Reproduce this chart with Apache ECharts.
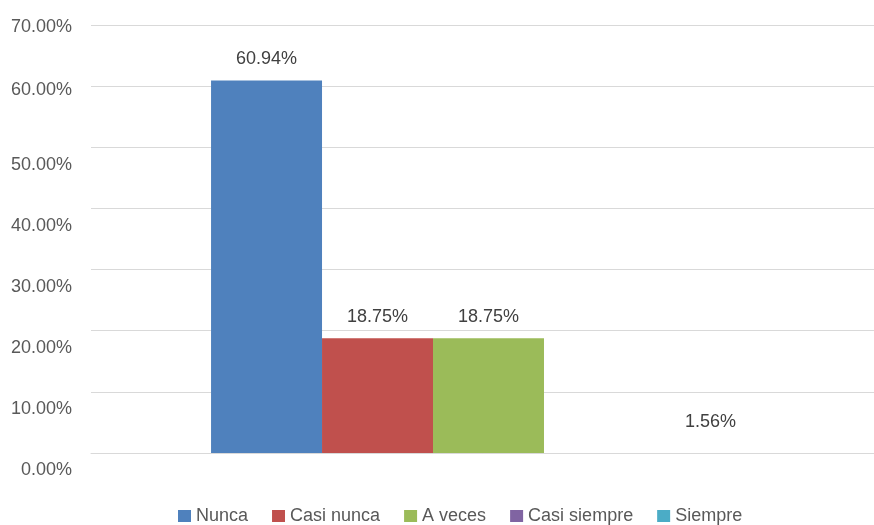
<!DOCTYPE html>
<html>
<head>
<meta charset="utf-8">
<script src="https://cdn.jsdelivr.net/npm/echarts@6/dist/echarts.min.js"></script>
<style>html,body{margin:0;padding:0;background:#fff}#c{width:874px;height:525px}</style>
</head>
<body>
<div id="c"></div>
<script>
const categories = [''];
const seriesNames = ['Nunca', 'Casi nunca', 'A veces', 'Casi siempre', 'Siempre'];
const seriesValues = [60.94, 18.75, 18.75, 0, 1.56];
const seriesColors = ['#4F81BD', '#C0504D', '#9BBB59', '#8064A2', '#4BACC6'];
const yTicks = [0, 10, 20, 30, 40, 50, 60, 70];

const FONT = 'Liberation Sans';
const FS = 18;
const chart = echarts.init(document.getElementById('c'), null, {renderer: 'canvas'});

const series = seriesNames.map((name, i) => ({
  name: name,
  type: 'bar',
  barGap: '0%',
  barCategoryGap: '30.2%',
  itemStyle: {color: seriesColors[i]},
  label: {
    show: true,
    position: 'top',
    distance: 12,
    color: '#404040',
    fontFamily: FONT,
    fontSize: FS,
    formatter: p => (p.value ? p.value.toFixed(2) + '%' : '')
  },
  data: categories.map(() => (name === 'Siempre'
    ? {value: seriesValues[i], itemStyle: {color: 'rgba(0,0,0,0)'}}
    : seriesValues[i]))
}));

chart.setOption({
  backgroundColor: '#fff',
  animation: false,
  grid: {left: 91, top: 25, bottom: 72, width: 795, containLabel: false, outerBoundsMode: 'none'},
  legend: {
    left: 173,
    top: 502,
    itemWidth: 13,
    itemHeight: 12,
    itemGap: 24,
    icon: 'rect',
    textStyle: {color: '#595959', fontFamily: FONT, fontSize: FS},
    data: seriesNames
  },
  xAxis: {
    type: 'category',
    data: categories,
    axisLine: {lineStyle: {color: '#d9d9d9', width: 1}},
    axisTick: {show: false},
    axisLabel: {show: false}
  },
  yAxis: {
    type: 'value',
    min: yTicks[0],
    max: yTicks[yTicks.length - 1],
    interval: 10,
    axisLine: {show: false},
    axisTick: {show: false},
    splitLine: {lineStyle: {color: '#d9d9d9', width: 1}},
    axisLabel: {
      margin: 19,
      color: '#595959',
      fontFamily: FONT,
      fontSize: FS,
      formatter: v => {
        const t = v.toFixed(2) + '%';
        if (v === 70) return '{a|' + t + '}';
        if (v === 60) return '{b|' + t + '}';
        return '{c|' + t + '}';
      },
      rich: {
        a: {color: '#595959', fontFamily: FONT, fontSize: FS, padding: [4, 0, 0, 0]},
        b: {color: '#595959', fontFamily: FONT, fontSize: FS, padding: [8, 0, 0, 0]},
        c: {color: '#595959', fontFamily: FONT, fontSize: FS, padding: [35, 0, 0, 0]}
      }
    }
  },
  series: series
});
</script>
</body>
</html>
